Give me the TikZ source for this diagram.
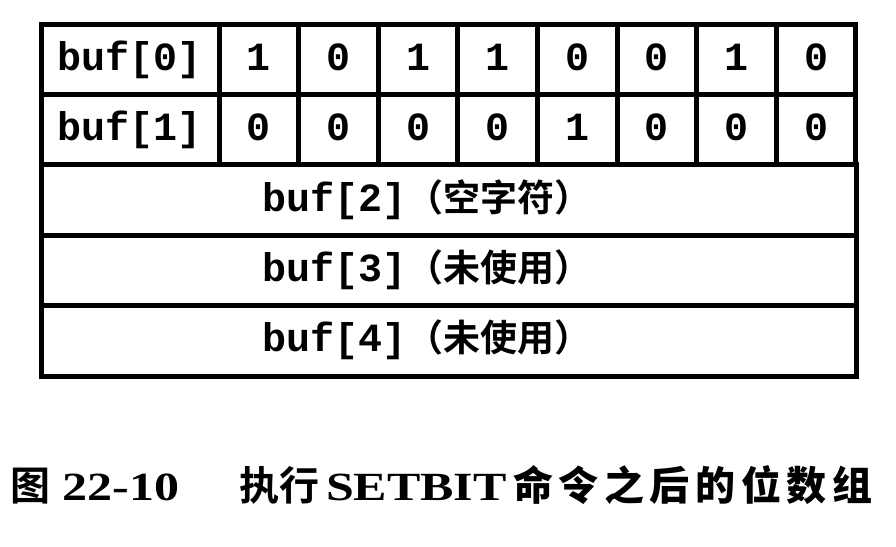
\documentclass[tikz,border=0pt]{standalone}
\usepackage{fontspec}
\setmonofont{Liberation Mono}
\newfontfamily\cjk{Noto Sans CJK SC}[BoldFont={Noto Sans CJK SC Bold}]
\newfontfamily\cjkwide{Noto Sans CJK SC Bold}[LetterSpace=14]
\newfontfamily\capserif{Liberation Serif}[FakeStretch=1.25]
\usetikzlibrary{positioning}

\begin{document}
\begin{tikzpicture}[x=1pt,y=-1pt,
  cell/.style={draw,line width=5pt,minimum height=70.4pt,inner sep=0pt,
    text height=27pt,text depth=5pt,
    font=\fontsize{40}{40}\selectfont\ttfamily\bfseries},
  bitcell/.style={cell,minimum width=79.6pt},
  namecell/.style={cell,minimum width=178pt},
  rowcell/.style={cell,minimum width=815pt},
  rowtext/.style={inner sep=0pt,text height=27pt,text depth=5pt,
    font=\fontsize{40}{40}\selectfont\ttfamily\bfseries},
  capt/.style={inner sep=0pt,font=\fontsize{40}{40}\selectfont\bfseries}]
\useasboundingbox (0,0) rectangle (896,546);
% buf[0] and buf[1]: name cell + 8 bits
\node[namecell] (buf0) at (130,59.2) {buf[0]};
\node[namecell] (buf1) at (130,129.6) {buf[1]};
\foreach \b [count=\i from 0] in {1,0,1,1,0,0,1,0}
  \node[bitcell] (b0-\i) at ({219+79.6*(\i+0.5)},59.2) {\b};
\foreach \b [count=\i from 0] in {0,0,0,0,1,0,0,0}
  \node[bitcell] (b1-\i) at ({219+79.6*(\i+0.5)},129.6) {\b};
% unused rows
\node[rowcell] (buf2) at (448.5,200) {};
\node[rowcell] (buf3) at (448.5,270.4) {};
\node[rowcell] (buf4) at (448.5,340.8) {};
\node[rowtext] (t2) at (427,200) {buf[2]{\cjk\bfseries\fontsize{37}{37}\selectfont （空字符）}};
\node[rowtext] (t3) at (427,270.4) {buf[3]{\cjk\bfseries\fontsize{37}{37}\selectfont （未使用）}};
\node[rowtext] (t4) at (427,340.8) {buf[4]{\cjk\bfseries\fontsize{37}{37}\selectfont （未使用）}};
% caption
\node[capt,anchor=base west] (fig) at (10,500) {\cjk 图};
\node[capt,base right=12pt of fig] (num) {\capserif 22-10};
\node[capt,base right=60pt of num] (do) {\cjk 执行};
\node[capt,base right=6pt of do] (cmd) {\capserif SETBIT};
\node[capt,base right=6pt of cmd] (rest) {\cjkwide 命令之后的位数组};
\end{tikzpicture}
\end{document}
